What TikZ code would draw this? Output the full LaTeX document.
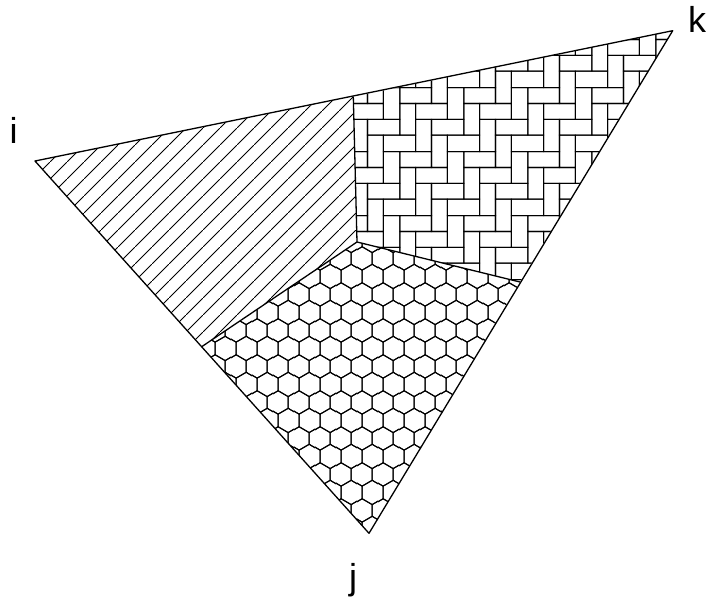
\documentclass[tikz,border=0pt]{standalone}
\usepackage{fontspec}
\setmainfont{Liberation Sans}
\usepackage{tikz}
\usetikzlibrary{patterns,calc}

% diagonal hatching
\pgfdeclarepatternformonly{hatchlines}{\pgfqpoint{0pt}{0pt}}{\pgfqpoint{16.7pt}{16.7pt}}{\pgfqpoint{16.7pt}{16.7pt}}{%
  \pgfsetlinewidth{1.05pt}%
  \pgfpathmoveto{\pgfqpoint{-2pt}{-2pt}}%
  \pgfpathlineto{\pgfqpoint{18.7pt}{18.7pt}}%
  \pgfusepath{stroke}}

% herringbone bricks (unit 16pt, tile 4x4 units, cell shifted half a unit)
\pgfdeclarepatternformonly{herringbone}{\pgfqpoint{8pt}{8pt}}{\pgfqpoint{72pt}{72pt}}{\pgfqpoint{64pt}{64pt}}{%
  \pgfsetlinewidth{1.05pt}%
  \foreach \dx in {-64,0,64}{\foreach \dy in {-64,0,64}{%
    \foreach \bx/\by/\bw/\bh in {0/0/2/1,3/1/2/1,2/2/2/1,1/3/2/1,0/2/1/2,3/3/1/2,2/0/1/2,1/1/1/2}{%
      \pgfpathrectangle{\pgfpoint{\dx pt+16pt*\bx}{\dy pt+16pt*\by}}{\pgfpoint{16pt*\bw}{16pt*\bh}}%
      \pgfusepath{stroke}}}}}

% hexagons (width 20.5pt, side 11.84pt, cell shifted a quarter width)
\pgfdeclarepatternformonly{honeycomb}{\pgfqpoint{5pt}{0pt}}{\pgfqpoint{25.5pt}{35.5pt}}{\pgfqpoint{20.5pt}{35.5pt}}{%
  \pgfsetlinewidth{1.05pt}%
  \foreach \dx in {-20.5,0,20.5}{\foreach \dy in {-35.5,0,35.5}{%
    \foreach \cx/\cy in {0/0,10.25/17.75}{%
      \pgfpathmoveto{\pgfpoint{\dx pt+\cx pt+10.25pt}{\dy pt+\cy pt-5.92pt}}%
      \pgfpathlineto{\pgfpoint{\dx pt+\cx pt+10.25pt}{\dy pt+\cy pt+5.92pt}}%
      \pgfpathlineto{\pgfpoint{\dx pt+\cx pt}{\dy pt+\cy pt+11.84pt}}%
      \pgfpathlineto{\pgfpoint{\dx pt+\cx pt-10.25pt}{\dy pt+\cy pt+5.92pt}}%
      \pgfpathlineto{\pgfpoint{\dx pt+\cx pt-10.25pt}{\dy pt+\cy pt-5.92pt}}%
      \pgfpathlineto{\pgfpoint{\dx pt+\cx pt}{\dy pt+\cy pt-11.84pt}}%
      \pgfpathclose
      \pgfusepath{stroke}}}}}

\begin{document}
\begin{tikzpicture}[
    x=1pt, y=-1pt,
    edge/.style={line width=1.3pt, line join=round},
    vlabel/.style={anchor=base, inner sep=0pt, font=\fontsize{36}{40}\selectfont}
]
\useasboundingbox (0,0) rectangle (715,599);

% Corners and split points
\coordinate (i) at (35,161);
\coordinate (k) at (672.7,30.7);
\coordinate (j) at (369,533.3);
\coordinate (mid) at (357,242);
\coordinate (ik) at (353.3,96.7);
\coordinate (kj) at (520,282);
\coordinate (ij) at (201.7,346.7);

% Regions
\fill[pattern=hatchlines] (i) -- (ik) -- (mid) -- (ij) -- cycle;
\fill[pattern=herringbone] (ik) -- (k) -- (kj) -- (mid) -- cycle;
\fill[pattern=honeycomb] (mid) -- (kj) -- (j) -- (ij) -- cycle;

% Outline
\draw[edge] (i) -- (k) -- (j) -- cycle;
\draw[edge] (ik) -- (mid) -- (kj);
\draw[edge] (mid) -- (ij);

% Labels
\node[vlabel] (li) at (13.5,144) {i};
\node[vlabel] (lk) at (697,33) {k};
\node[vlabel] (lj) at (353,589) {j};

\end{tikzpicture}
\end{document}
